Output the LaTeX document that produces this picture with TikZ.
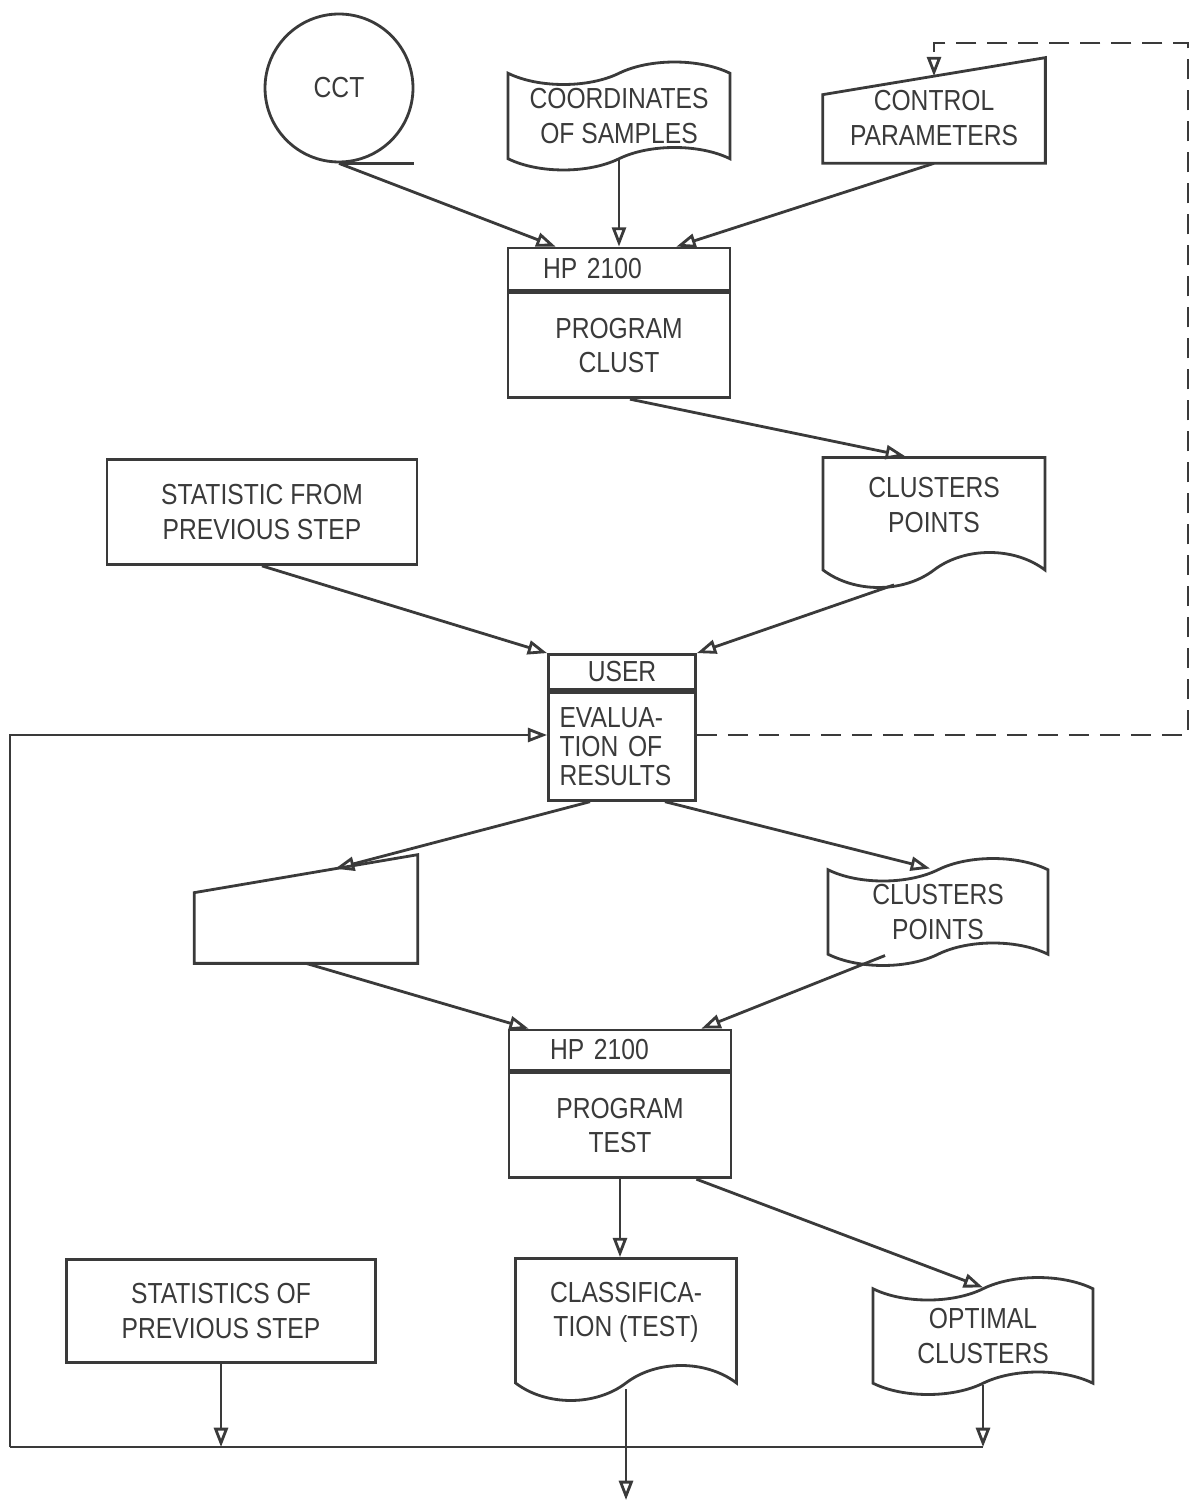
\documentclass[tikz,border=0pt]{standalone}
\usepackage{fontspec}
\setmainfont{Liberation Sans}[FakeStretch=0.85]
\usepackage{xcolor}
\usetikzlibrary{positioning,shapes.symbols,arrows.meta,calc}
\definecolor{inkgray}{HTML}{3A3A3A}

\begin{document}
\begin{tikzpicture}[x=0.02cm, y=-0.02cm,
    every node/.style={font=\fontsize{16.5}{19.5}\selectfont, text=inkgray, align=center},
    procbox/.style={draw=inkgray, line width=1.6pt, rectangle, inner sep=0pt, minimum width=4.44cm},
    tapebox/.style={draw=inkgray, line width=1.6pt, tape, tape bend height=0.45cm, inner sep=0pt},
    docbox/.style={tapebox, tape bend top=none, tape bend height=0.7cm},
    flowline/.style={draw=inkgray, line width=1.6pt},
    flowarrow/.style={flowline, -{Triangle[open, length=11pt, width=8pt]}},
    loopline/.style={flowarrow, dash pattern=on 0.4cm off 0.22cm}]
\useasboundingbox (0,0) rectangle (1195,1506);

\node[circle, draw=inkgray, line width=1.6pt, minimum size=2.96cm, inner sep=0pt] (cct) at (339,88) {CCT};
\node[tapebox, minimum width=4.44cm, minimum height=2.16cm] (coords) at (619,116) {COORDINATES\\OF SAMPLES};
\node[minimum width=4.44cm, minimum height=1.8cm, inner sep=0pt] (ctrl) at (934,118) {CONTROL\\PARAMETERS};
\draw[flowline] (ctrl.south west) -- (ctrl.south east) -- ([yshift=0.3cm]ctrl.north east) -- ([yshift=-0.44cm]ctrl.north west) -- cycle;

\node[procbox, minimum height=0.84cm, text width=3.04cm, align=left] (clusthead) at (619,269) {HP 2100};
\node[procbox, minimum height=2.1cm, below=0pt of clusthead] (clust) {PROGRAM\\CLUST};

\node[docbox, minimum width=4.44cm, minimum height=2.6cm] (clusters) at (934,505) {CLUSTERS\\POINTS};
\node[procbox, minimum width=6.2cm, minimum height=2.1cm] (statstep) at (262,512) {STATISTIC FROM\\PREVIOUS STEP};

\node[procbox, minimum width=2.94cm, minimum height=0.7cm] (userhead) at (622,672) {USER};
\node[procbox, minimum width=2.94cm, minimum height=2.16cm, below=0pt of userhead, text width=2.5cm, align=left] (user) {EVALUA-\\[-3pt]TION OF\\[-3pt]RESULTS};

\node[minimum width=4.46cm, minimum height=2.16cm, inner sep=0pt] (card) at (306,909) {};
\draw[flowline] (card.south west) -- (card.south east) -- (card.north east) -- ([yshift=-0.76cm]card.north west) -- cycle;
\node[tapebox, minimum width=4.4cm, minimum height=2.14cm] (clusters2) at (938,912) {CLUSTERS\\POINTS};

\node[procbox, minimum height=0.8cm, text width=2.8cm, align=left] (testhead) at (620,1050) {HP 2100};
\node[procbox, minimum height=2.1cm, below=0pt of testhead] (test) {PROGRAM\\TEST};

\node[procbox, minimum width=6.18cm, minimum height=2.06cm] (stats) at (221,1311) {STATISTICS OF\\PREVIOUS STEP};
\node[docbox, minimum width=4.42cm, minimum height=2.84cm] (classif) at (626,1312) {CLASSIFICA-\\TION (TEST)};
\node[tapebox, minimum width=4.4cm, minimum height=2.34cm] (optimal) at (983,1336) {OPTIMAL\\CLUSTERS};

\coordinate (busl) at (10,1447);
\coordinate (busr) at (983,1447);
\coordinate (fbl) at (10,735);
\coordinate (fbr) at (1188,735);
\coordinate (loopt) at (1188,43);
\coordinate (outend) at (626,1500);

\draw[flowline] (cct.south) -- (cct.south -| cct.east);
\draw[flowarrow] (cct.south) -- ([xshift=0.98cm]clusthead.north west);
\draw[flowarrow] (coords.south) -- (coords.south |- clusthead.north);
\draw[flowarrow] (ctrl.south) -- ([xshift=-1.1cm]clusthead.north east);
\draw[flowarrow] ([xshift=0.22cm]clust.south) -- ([xshift=-0.58cm]clusters.north);
\draw[flowarrow] (statstep.south) -- (userhead.north west);
\draw[flowarrow] ([xshift=-0.8cm, yshift=-0.62cm]clusters.south) -- (userhead.north east);
\draw[flowarrow] ([xshift=-0.64cm]user.south) -- ($([yshift=-0.76cm]card.north west)!0.63!(card.north east)$);
\draw[flowarrow] ([xshift=0.86cm]user.south) -- ([xshift=-0.16cm]clusters2.north);
\draw[flowarrow] (card.south) -- ([xshift=0.42cm]testhead.north west);
\draw[flowarrow] ([xshift=-1.06cm]clusters2.south) -- ([xshift=-0.62cm]testhead.north east);
\draw[flowarrow] (test.south) -- (test.south |- classif.north);
\draw[flowarrow] ([xshift=-0.72cm]test.south east) -- (optimal.north);
\draw[flowline] (busl) -- (busr);
\draw[flowarrow] (stats.south) -- (stats.south |- busl);
\draw[flowarrow] (optimal.south) -- (busr);
\draw[flowarrow] ([yshift=-0.45cm]classif.south) -- (outend);
\draw[flowarrow] (busl) -- (fbl) -- (fbl -| user.west);
\draw[loopline] (user.east |- fbr) -- (fbr) -- (loopt) -- (loopt -| ctrl) -- ($([yshift=-0.44cm]ctrl.north west)!0.5!([yshift=0.3cm]ctrl.north east)$);
\end{tikzpicture}
\end{document}
